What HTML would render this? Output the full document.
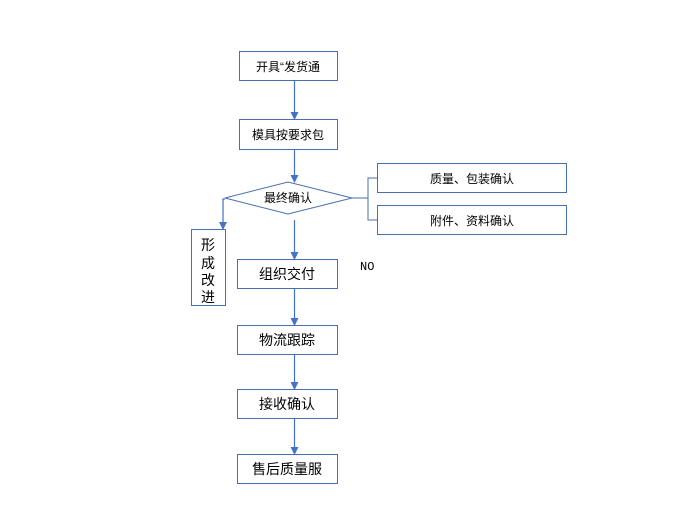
<!DOCTYPE html>
<html><head><meta charset="utf-8"><style>
body{margin:0;background:#fff;}
svg text{font-family:"Liberation Sans","Noto Sans CJK SC",sans-serif;fill:#000;}
</style></head><body>
<svg width="699" height="523" viewBox="0 0 699 523" xmlns="http://www.w3.org/2000/svg">
<defs><marker id="a" markerWidth="8" markerHeight="8" refX="7" refY="4" orient="auto" markerUnits="userSpaceOnUse"><path d="M0,0 L8,4 L0,8 z" fill="#4472c4"/></marker></defs>
<g fill="none" stroke="#4a6fae" stroke-width="1">
<rect x="239.5" y="51.5" width="98" height="29"/>
<rect x="239.5" y="119.5" width="98" height="30"/>
<polygon points="225,198 288,182 352,198 288,214"/>
<rect x="377.5" y="163.5" width="189" height="29"/>
<rect x="377.5" y="205.5" width="189" height="29"/>
<rect x="191.5" y="229.5" width="34" height="76"/>
<rect x="237.5" y="259.5" width="100" height="29"/>
<rect x="237.5" y="325.5" width="100" height="29"/>
<rect x="237.5" y="389.5" width="100" height="29"/>
<rect x="237.5" y="454.5" width="100" height="29"/>
<polyline points="352,198 368,198"/>
<polyline points="377,178 368,178 368,220 377,220"/>
</g>
<g stroke="#4472c4" stroke-width="1.2" fill="none">
<line x1="294.5" y1="81" x2="294.5" y2="119" marker-end="url(#a)"/>
<line x1="294.5" y1="150" x2="294.5" y2="182" marker-end="url(#a)"/>
<line x1="294.5" y1="220" x2="294.5" y2="259" marker-end="url(#a)"/>
<polyline points="225,199 223,199 223,229" marker-end="url(#a)"/>
<line x1="294.5" y1="289" x2="294.5" y2="325" marker-end="url(#a)"/>
<line x1="294.5" y1="355" x2="294.5" y2="389" marker-end="url(#a)"/>
<line x1="294.5" y1="419" x2="294.5" y2="454" marker-end="url(#a)"/>
</g>
<g font-size="12" text-anchor="middle">
<text x="288" y="71">开具“发货通</text>
<text x="288" y="139">模具按要求包</text>
<text x="288" y="202">最终确认</text>
<text x="472" y="183">质量、包装确认</text>
<text x="472" y="225">附件、资料确认</text>
</g>
<g font-size="14" text-anchor="middle">
<text x="208" y="250">形</text>
<text x="208" y="268">成</text>
<text x="208" y="285">改</text>
<text x="208" y="302">进</text>
<text x="287" y="279">组织交付</text>
<text x="287" y="345">物流跟踪</text>
<text x="287" y="409">接收确认</text>
<text x="287" y="474">售后质量服</text>
</g>
<text x="360" y="270" font-size="12" style="font-family:'Liberation Mono',monospace">NO</text>
</svg>
</body></html>
